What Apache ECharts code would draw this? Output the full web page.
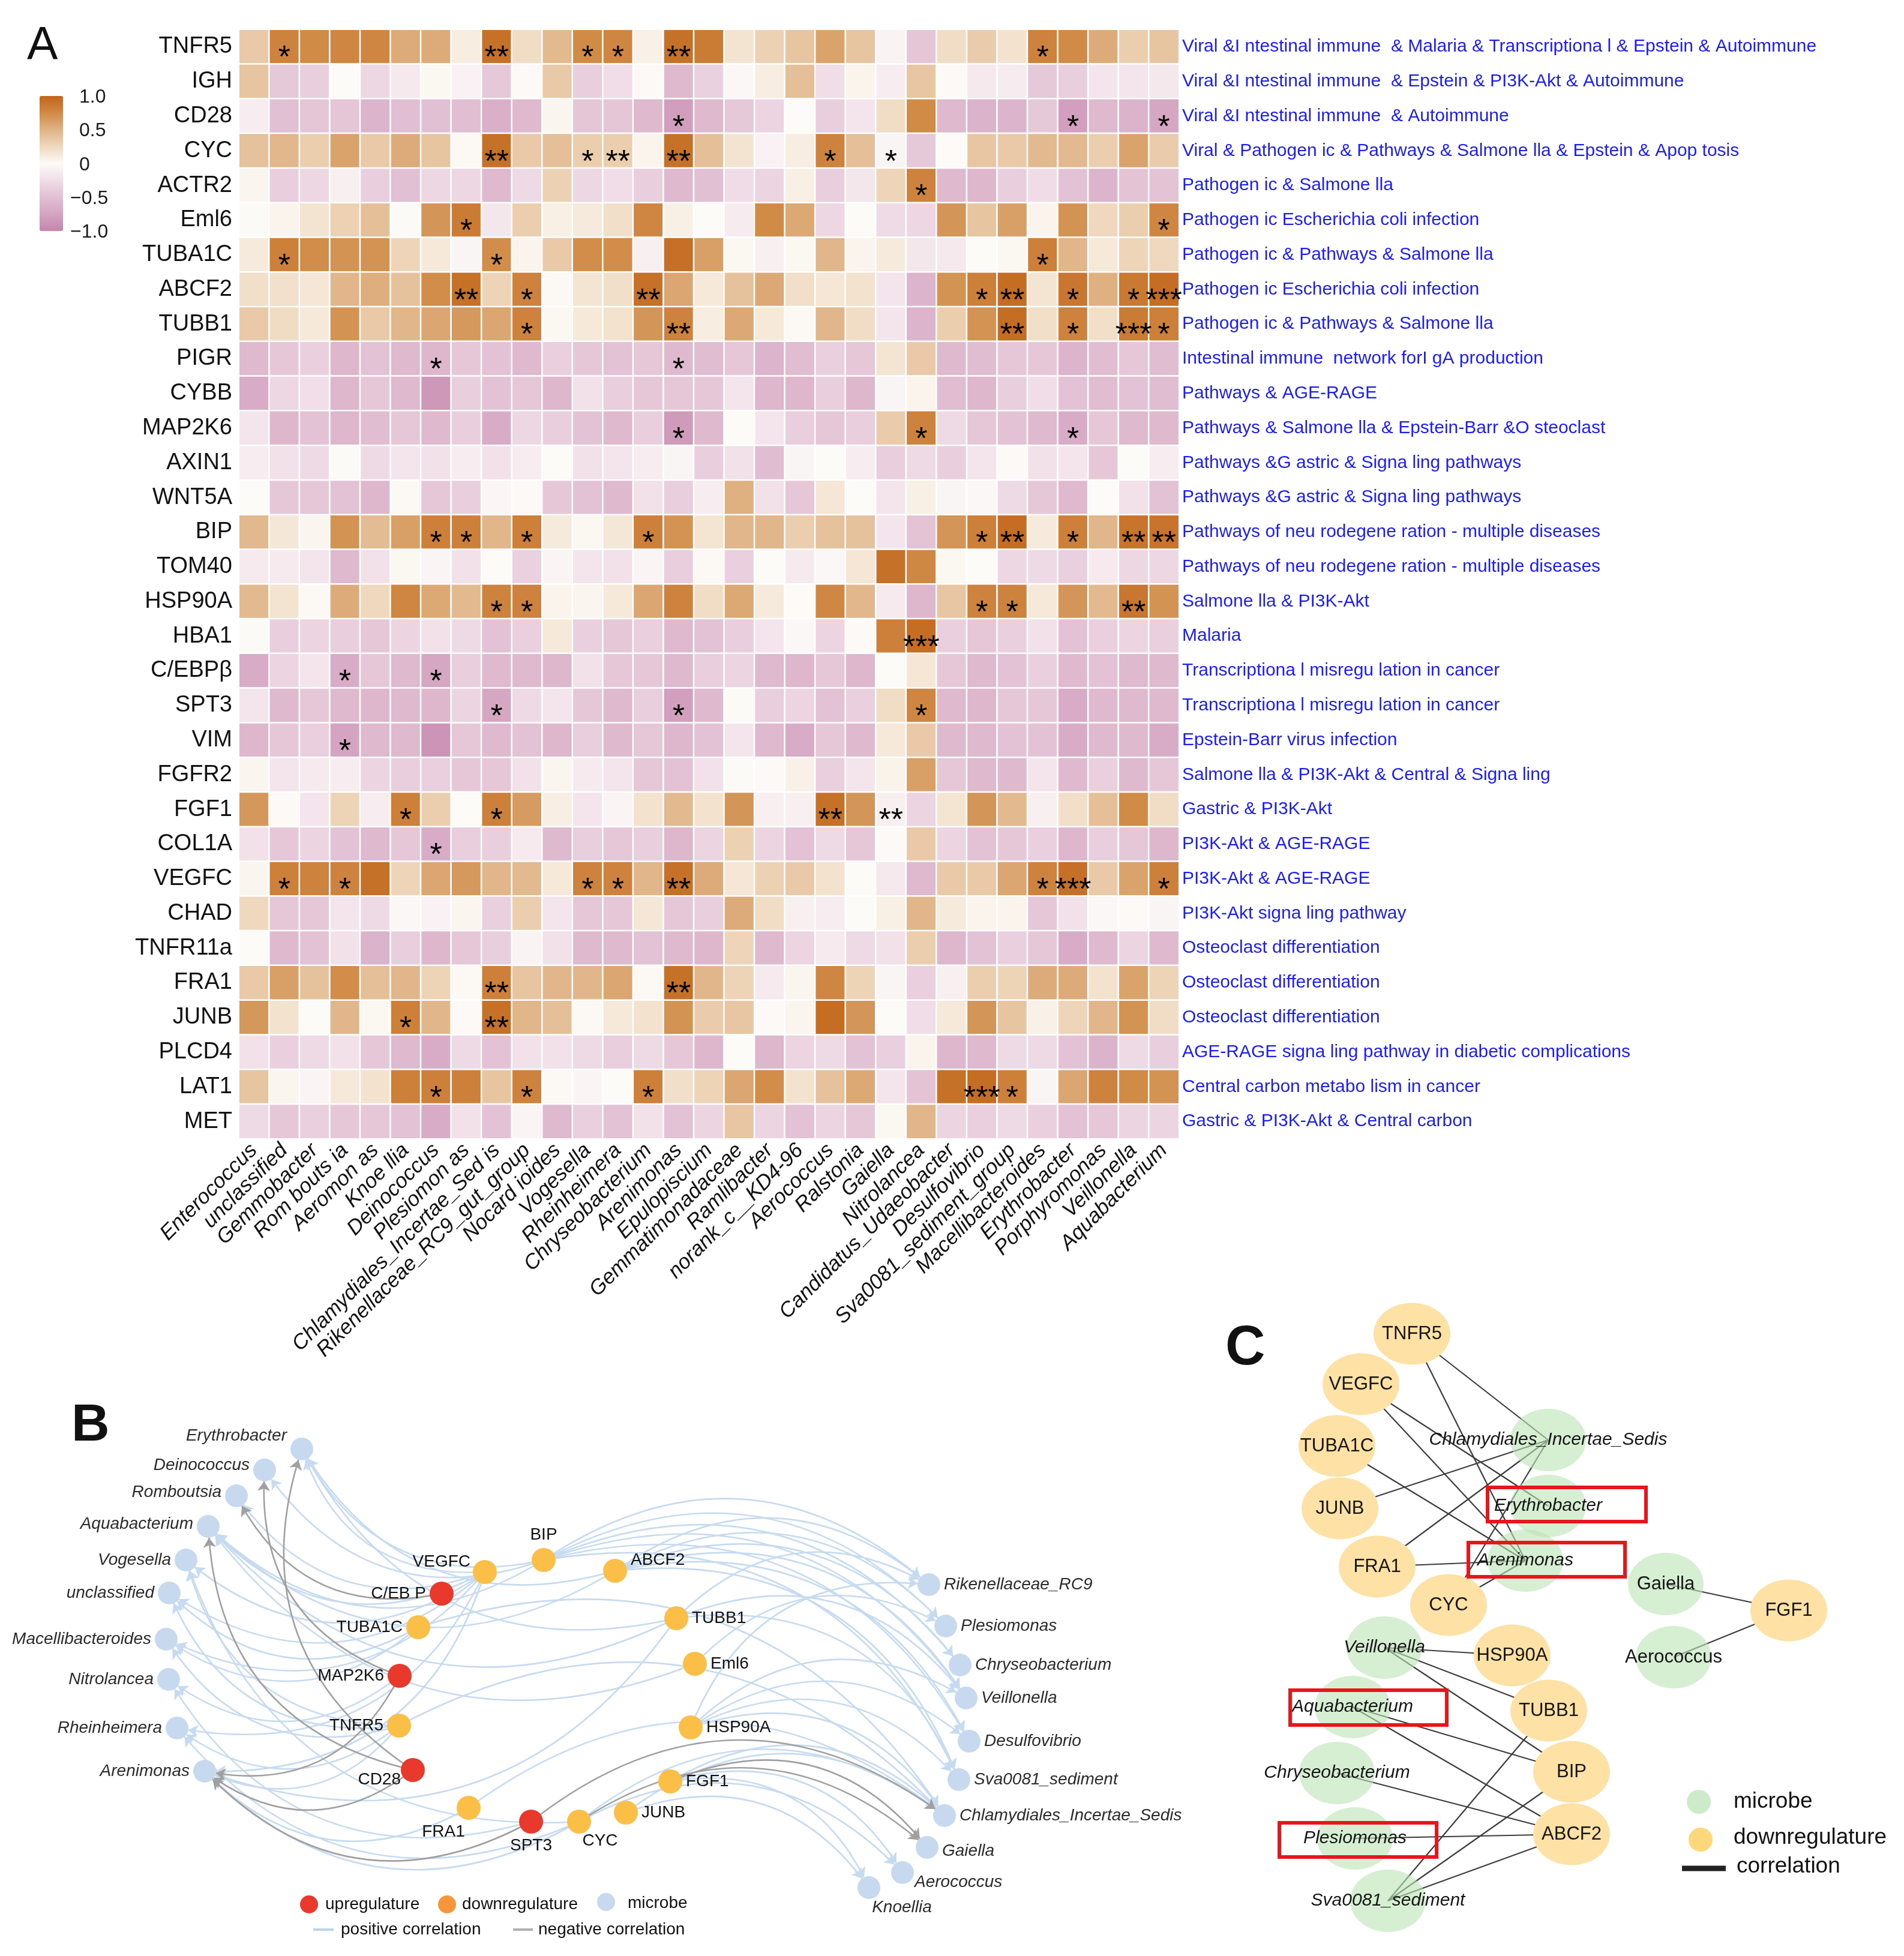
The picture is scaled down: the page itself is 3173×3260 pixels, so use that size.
<!DOCTYPE html>
<html><head><meta charset="utf-8">
<script src="https://cdn.jsdelivr.net/npm/echarts/dist/echarts.min.js"></script>
<style>html,body{margin:0;padding:0;background:#fff}#main{width:3173px;height:3260px}</style>
</head><body><div id="main"></div>
<script>
// ---------------- Panel A data ----------------
const genes = ['TNFR5','IGH','CD28','CYC','ACTR2','Eml6','TUBA1C','ABCF2','TUBB1','PIGR','CYBB','MAP2K6','AXIN1','WNT5A','BIP','TOM40','HSP90A','HBA1','C/EBPβ','SPT3','VIM','FGFR2','FGF1','COL1A','VEGFC','CHAD','TNFR11a','FRA1','JUNB','PLCD4','LAT1','MET'];
const microbes = ['Enterococcus','unclassified','Gemmobacter','Rom bouts ia','Aeromon as','Knoe llia','Deinococcus','Plesiomon as','Chlamydiales_Incertae_Sed is','Rikenellaceae_RC9_gut_group','Nocard ioides','Vogesella','Rheinheimera','Chryseobacterium','Arenimonas','Epulopiscium','Gemmatimonadaceae','Ramlibacter','norank_c__KD4-96','Aerococcus','Ralstonia','Gaiella','Nitrolancea','Candidatus_Udaeobacter','Desulfovibrio','Sva0081_sediment_group','Macellibacteroides','Erythrobacter','Porphyromonas','Veillonella','Aquabacterium'];
const pathways = [
 'Viral &I ntestinal immune  & Malaria & Transcriptiona l & Epstein & Autoimmune',
 'Viral &I ntestinal immune  & Epstein & PI3K-Akt & Autoimmune',
 'Viral &I ntestinal immune  & Autoimmune',
 'Viral & Pathogen ic & Pathways & Salmone lla & Epstein & Apop tosis',
 'Pathogen ic & Salmone lla',
 'Pathogen ic Escherichia coli infection',
 'Pathogen ic & Pathways & Salmone lla',
 'Pathogen ic Escherichia coli infection',
 'Pathogen ic & Pathways & Salmone lla',
 'Intestinal immune  network forI gA production',
 'Pathways & AGE-RAGE',
 'Pathways & Salmone lla & Epstein-Barr &O steoclast',
 'Pathways &G astric & Signa ling pathways',
 'Pathways &G astric & Signa ling pathways',
 'Pathways of neu rodegene ration - multiple diseases',
 'Pathways of neu rodegene ration - multiple diseases',
 'Salmone lla & PI3K-Akt',
 'Malaria',
 'Transcriptiona l misregu lation in cancer',
 'Transcriptiona l misregu lation in cancer',
 'Epstein-Barr virus infection',
 'Salmone lla & PI3K-Akt & Central & Signa ling',
 'Gastric & PI3K-Akt',
 'PI3K-Akt & AGE-RAGE',
 'PI3K-Akt & AGE-RAGE',
 'PI3K-Akt signa ling pathway',
 'Osteoclast differentiation',
 'Osteoclast differentiation',
 'Osteoclast differentiation',
 'AGE-RAGE signa ling pathway in diabetic complications',
 'Central carbon metabo lism in cancer',
 'Gastric & PI3K-Akt & Central carbon'
];
const colorbarTicks = ['1.0','0.5','0','\u22120.5','\u22121.0'];
// correlation values, one list per gene (row), one value per microbe (column)
const corr = [
 [0.35,0.8,0.75,0.78,0.78,0.55,0.55,0.1,0.92,0.22, 0.45,0.75,0.78,0.07,0.92,0.85,0.17,0.3,0.38,0.6, 0.38,-0.07,-0.45,0.22,0.33,0.18,0.8,0.75,0.55,0.32,0.38],
 [0.38,-0.42,-0.38,0,-0.3,-0.15,0.03,-0.08,-0.42,-0.02, 0.35,-0.38,-0.25,-0.02,-0.55,-0.35,-0.03,0.1,0.42,-0.25, 0.05,-0.12,0.37,-0.02,-0.15,-0.13,-0.42,-0.38,-0.18,-0.18,-0.16],
 [-0.12,-0.5,-0.45,-0.45,-0.6,-0.52,-0.5,-0.52,-0.65,-0.55, 0.04,-0.45,-0.45,-0.55,-0.8,-0.55,-0.42,-0.33,0,-0.38, -0.18,0.22,0.75,-0.55,-0.62,-0.6,-0.42,-0.78,-0.55,-0.62,-0.72],
 [0.4,0.47,0.32,0.6,0.35,0.55,0.38,0.02,0.92,0.35, 0.42,0.32,0.32,0.05,0.92,0.42,0.17,-0.08,0.1,0.8, 0.42,-0.05,-0.42,0,0.37,0.35,0.45,0.45,0.32,0.6,0.33],
 [0.04,-0.38,-0.3,-0.1,-0.38,-0.5,-0.3,-0.3,-0.55,-0.28, 0.3,-0.3,-0.25,-0.38,-0.55,-0.5,-0.26,-0.32,0.08,-0.38, -0.17,0.27,0.8,-0.55,-0.58,-0.38,-0.26,-0.48,-0.6,-0.47,-0.47],
 [0.01,0.05,0.17,0.3,0.42,0.01,0.68,0.85,-0.17,0.32, 0.08,0.12,0.2,0.78,0.08,0,-0.13,0.75,0.57,-0.3, 0,-0.27,-0.3,0.68,0.38,0.62,0.05,0.7,0.25,0.32,0.78],
 [0.12,0.82,0.74,0.7,0.7,0.27,0.13,-0.05,0.74,0.05, 0.35,0.74,0.74,-0.1,0.93,0.62,0.03,-0.1,0.03,0.48, 0.05,0.12,-0.17,-0.15,0,0.03,0.82,0.48,0.13,0.27,0.25],
 [0.2,0.19,0.15,0.48,0.53,0.4,0.74,0.92,0.28,0.8, 0.02,0.16,0.2,0.92,0.58,0.13,0.4,0.56,0.2,0.15, 0.18,-0.18,-0.6,0.7,0.82,0.95,0.16,0.88,0.52,0.87,0.95],
 [0.35,0.23,0.13,0.7,0.35,0.48,0.58,0.66,0.58,0.8, 0.03,0.13,0.18,0.68,0.8,0.1,0.56,0.13,0.02,0.48, 0.22,-0.18,-0.6,0.32,0.7,0.95,0.2,0.8,0.2,0.85,0.82],
 [-0.55,-0.44,-0.36,-0.58,-0.48,-0.55,-0.58,-0.44,-0.48,-0.55, -0.36,-0.44,-0.48,-0.44,-0.55,-0.53,-0.44,-0.6,-0.53,-0.36, -0.44,0.16,0.35,-0.55,-0.53,-0.44,-0.44,-0.6,-0.53,-0.44,-0.53],
 [-0.68,-0.3,-0.24,-0.58,-0.44,-0.55,-0.85,-0.38,-0.48,-0.44, -0.58,-0.22,-0.38,-0.44,-0.44,-0.44,-0.18,-0.58,-0.58,-0.38, -0.58,-0.05,0.05,-0.53,-0.58,-0.38,-0.25,-0.48,-0.53,-0.48,-0.53],
 [-0.18,-0.58,-0.48,-0.58,-0.53,-0.44,-0.55,-0.38,-0.68,-0.3, -0.38,-0.48,-0.55,-0.38,-0.82,-0.55,0,-0.18,-0.38,-0.44, -0.38,0.33,0.8,-0.28,-0.44,-0.48,-0.55,-0.68,-0.44,-0.55,-0.55],
 [-0.12,-0.22,-0.28,-0.01,-0.28,-0.18,-0.22,-0.12,-0.22,-0.12, 0,-0.22,-0.18,-0.12,-0.05,-0.38,-0.22,-0.53,-0.05,0, -0.12,-0.38,-0.28,-0.38,-0.18,-0.02,-0.22,-0.18,-0.44,0,-0.12],
 [0,-0.44,-0.44,-0.48,-0.58,0.02,-0.44,-0.38,-0.04,-0.02, -0.44,-0.48,-0.55,-0.22,-0.38,-0.12,0.52,-0.22,-0.44,0.15, 0,-0.18,0.08,-0.05,-0.03,-0.28,-0.44,-0.55,0,-0.22,-0.48],
 [0.46,0.14,0.04,0.7,0.44,0.62,0.82,0.82,0.48,0.82, 0.12,0.03,0.14,0.82,0.7,0.16,0.48,0.48,0.32,0.4, 0.4,-0.18,-0.47,0.68,0.82,0.95,0.12,0.82,0.48,0.9,0.9],
 [-0.14,-0.14,-0.18,-0.55,-0.22,0.03,-0.06,-0.22,0,-0.35, -0.06,-0.18,-0.22,-0.06,-0.38,0.02,-0.36,0,-0.14,-0.03, 0.15,0.92,0.77,0.03,0,-0.3,-0.28,-0.36,-0.14,-0.3,-0.3],
 [0.45,0.17,0.02,0.55,0.25,0.78,0.57,0.45,0.8,0.8, 0.05,0.04,0.13,0.58,0.8,0.22,0.57,0.12,0,0.77, 0.47,-0.14,-0.58,0.37,0.8,0.8,0.13,0.68,0.45,0.88,0.7],
 [-0.01,-0.38,-0.32,-0.38,-0.44,-0.32,-0.22,-0.28,-0.48,-0.36, 0.13,-0.36,-0.44,-0.36,-0.55,-0.48,-0.38,-0.18,-0.03,-0.32, -0.02,0.82,0.95,-0.36,-0.44,-0.36,-0.22,-0.48,-0.36,-0.32,-0.36],
 [-0.68,-0.32,-0.18,-0.68,-0.44,-0.55,-0.72,-0.38,-0.55,-0.55, -0.58,-0.22,-0.44,-0.44,-0.55,-0.38,-0.32,-0.55,-0.58,-0.44, -0.58,0,0.15,-0.44,-0.55,-0.48,-0.36,-0.55,-0.48,-0.55,-0.55],
 [-0.18,-0.55,-0.44,-0.55,-0.58,-0.55,-0.58,-0.32,-0.72,-0.28, -0.18,-0.44,-0.55,-0.38,-0.78,-0.55,-0.01,-0.38,-0.32,-0.48, -0.36,0.22,0.78,-0.55,-0.58,-0.44,-0.44,-0.68,-0.55,-0.55,-0.55],
 [-0.58,-0.44,-0.36,-0.75,-0.55,-0.55,-0.88,-0.44,-0.55,-0.48, -0.58,-0.38,-0.55,-0.44,-0.58,-0.48,-0.18,-0.55,-0.68,-0.44, -0.55,0.13,0.35,-0.55,-0.55,-0.48,-0.48,-0.68,-0.55,-0.55,-0.68],
 [0.04,-0.18,-0.14,-0.12,-0.32,-0.38,-0.36,-0.44,-0.44,-0.22, 0.04,-0.14,-0.18,-0.44,-0.48,-0.22,-0.01,-0.02,0.07,-0.36, -0.18,0.06,0.62,-0.44,-0.55,-0.55,-0.18,-0.55,-0.36,-0.55,-0.44],
 [0.67,-0.02,-0.18,0.28,-0.12,0.82,0.32,0,0.82,0.65, 0.09,-0.18,-0.06,0.18,0.45,0.18,0.68,-0.1,-0.1,0.92, 0.68,-0.1,-0.32,0.16,0.68,0.45,-0.1,0.2,0.42,0.75,0.22],
 [-0.22,-0.44,-0.32,-0.48,-0.55,-0.44,-0.68,-0.38,-0.38,-0.14, -0.55,-0.38,-0.44,-0.38,-0.58,-0.32,0.3,-0.32,-0.48,-0.28, -0.44,-0.02,0.35,-0.32,-0.48,-0.44,-0.36,-0.58,-0.38,-0.44,-0.58],
 [0.04,0.82,0.8,0.8,0.92,0.27,0.58,0.66,0.48,0.45, 0.13,0.8,0.8,0.48,0.92,0.55,0.15,0.3,0.35,0.18, 0,-0.15,-0.55,0.35,0.35,0.58,0.8,0.93,0.35,0.6,0.82],
 [0.25,-0.44,-0.44,-0.18,-0.28,-0.03,-0.08,0.04,-0.36,0.32, -0.18,-0.44,-0.44,0.15,-0.44,-0.38,0.55,0.22,-0.1,-0.12, 0,0.08,0.48,0.12,0.05,0.05,-0.44,-0.22,-0.03,-0.02,-0.05],
 [0,-0.55,-0.48,-0.22,-0.62,-0.38,-0.58,-0.44,-0.38,-0.07, -0.22,-0.55,-0.55,-0.48,-0.55,-0.58,0.27,-0.55,-0.32,-0.14, -0.28,-0.22,0.32,-0.58,-0.48,-0.36,-0.44,-0.68,-0.55,-0.32,-0.55],
 [0.35,0.62,0.4,0.74,0.42,0.48,0.28,0.02,0.82,0.38, 0.48,0.48,0.58,0.02,0.92,0.48,0.28,-0.14,0.04,0.78, 0.28,-0.05,-0.36,-0.1,0.32,0.28,0.55,0.55,0.18,0.6,0.28],
 [0.67,0.18,0,0.48,0.03,0.82,0.48,-0.02,0.92,0.48, 0.42,0.02,0.13,0.18,0.7,0.33,0.37,-0.02,0.04,0.95, 0.68,0,-0.25,0.13,0.68,0.38,0.07,0.27,0.48,0.7,0.22],
 [-0.22,-0.36,-0.28,-0.22,-0.44,-0.55,-0.68,-0.28,-0.48,-0.22, -0.22,-0.28,-0.38,-0.28,-0.44,-0.58,0,-0.58,-0.32,-0.28, -0.48,-0.36,0.05,-0.58,-0.55,-0.28,-0.28,-0.48,-0.62,-0.28,-0.38],
 [0.38,0.04,-0.06,0.13,0.18,0.82,0.82,0.82,0.38,0.8, 0.02,-0.06,0,0.82,0.2,0.28,0.58,0.74,0.18,0.4, 0.57,-0.18,-0.47,0.92,0.95,0.82,-0.05,0.58,0.8,0.75,0.7],
 [-0.28,-0.44,-0.36,-0.44,-0.44,-0.48,-0.68,-0.22,-0.48,-0.06, -0.55,-0.36,-0.48,-0.22,-0.48,-0.32,0.37,-0.32,-0.48,-0.32, -0.44,0.03,0.48,-0.32,-0.36,-0.28,-0.36,-0.48,-0.44,-0.32,-0.32]
];
// significance marks: [row, column, mark]
const signif = [
 [0,1,'*'],[0,8,'**'],[0,11,'*'],[0,12,'*'],[0,14,'**'],[0,26,'*'],
 [2,14,'*'],[2,27,'*'],[2,30,'*'],
 [3,8,'**'],[3,11,'*'],[3,12,'**'],[3,14,'**'],[3,19,'*'],[3,21,'*'],
 [4,22,'*'],
 [5,7,'*'],[5,30,'*'],
 [6,1,'*'],[6,8,'*'],[6,26,'*'],
 [7,7,'**'],[7,9,'*'],[7,13,'**'],[7,24,'*'],[7,25,'**'],[7,27,'*'],[7,29,'*'],[7,30,'***'],
 [8,9,'*'],[8,14,'**'],[8,25,'**'],[8,27,'*'],[8,29,'***'],[8,30,'*'],
 [9,6,'*'],[9,14,'*'],
 [11,14,'*'],[11,22,'*'],[11,27,'*'],
 [14,6,'*'],[14,7,'*'],[14,9,'*'],[14,13,'*'],[14,24,'*'],[14,25,'**'],[14,27,'*'],[14,29,'**'],[14,30,'**'],
 [16,8,'*'],[16,9,'*'],[16,24,'*'],[16,25,'*'],[16,29,'**'],
 [17,22,'***'],
 [18,3,'*'],[18,6,'*'],
 [19,8,'*'],[19,14,'*'],[19,22,'*'],
 [20,3,'*'],
 [22,5,'*'],[22,8,'*'],[22,19,'**'],[22,21,'**'],
 [23,6,'*'],
 [24,1,'*'],[24,3,'*'],[24,11,'*'],[24,12,'*'],[24,14,'**'],[24,26,'*'],[24,27,'***'],[24,30,'*'],
 [27,8,'**'],[27,14,'**'],
 [28,5,'*'],[28,8,'**'],
 [30,6,'*'],[30,9,'*'],[30,13,'*'],[30,24,'***'],[30,25,'*']
];

// ---------------- Panel B data ----------------
const bMicrobes = ['Erythrobacter','Deinococcus','Romboutsia','Aquabacterium','Vogesella','unclassified','Macellibacteroides','Nitrolancea','Rheinheimera','Arenimonas','Rikenellaceae_RC9','Plesiomonas','Chryseobacterium','Veillonella','Desulfovibrio','Sva0081_sediment','Chlamydiales_Incertae_Sedis','Gaiella','Aerococcus','Knoellia'];
const bUpGenes = ['C/EB P','MAP2K6','CD28','SPT3'];
const bDownGenes = ['VEGFC','BIP','ABCF2','TUBA1C','TUBB1','Eml6','TNFR5','HSP90A','FGF1','FRA1','CYC','JUNB'];
const bPositive = [
 ['TNFR5','unclassified'],['TNFR5','Chlamydiales_Incertae_Sedis'],['TNFR5','Vogesella'],['TNFR5','Rheinheimera'],['TNFR5','Arenimonas'],['TNFR5','Macellibacteroides'],
 ['CYC','Chlamydiales_Incertae_Sedis'],['CYC','Vogesella'],['CYC','Rheinheimera'],['CYC','Arenimonas'],['CYC','Aerococcus'],
 ['Eml6','Plesiomonas'],['Eml6','Aquabacterium'],
 ['TUBA1C','unclassified'],['TUBA1C','Chlamydiales_Incertae_Sedis'],['TUBA1C','Macellibacteroides'],
 ['ABCF2','Plesiomonas'],['ABCF2','Rikenellaceae_RC9'],['ABCF2','Chryseobacterium'],['ABCF2','Desulfovibrio'],['ABCF2','Sva0081_sediment'],['ABCF2','Erythrobacter'],['ABCF2','Veillonella'],['ABCF2','Aquabacterium'],
 ['TUBB1','Rikenellaceae_RC9'],['TUBB1','Arenimonas'],['TUBB1','Sva0081_sediment'],['TUBB1','Erythrobacter'],['TUBB1','Veillonella'],['TUBB1','Aquabacterium'],
 ['MAP2K6','Nitrolancea'],
 ['BIP','Deinococcus'],['BIP','Plesiomonas'],['BIP','Rikenellaceae_RC9'],['BIP','Chryseobacterium'],['BIP','Desulfovibrio'],['BIP','Sva0081_sediment'],['BIP','Erythrobacter'],['BIP','Veillonella'],['BIP','Aquabacterium'],
 ['HSP90A','Chlamydiales_Incertae_Sedis'],['HSP90A','Rikenellaceae_RC9'],['HSP90A','Desulfovibrio'],['HSP90A','Sva0081_sediment'],['HSP90A','Veillonella'],
 ['SPT3','Nitrolancea'],
 ['FGF1','Knoellia'],['FGF1','Chlamydiales_Incertae_Sedis'],['FGF1','Aerococcus'],
 ['VEGFC','unclassified'],['VEGFC','Romboutsia'],['VEGFC','Vogesella'],['VEGFC','Rheinheimera'],['VEGFC','Arenimonas'],['VEGFC','Macellibacteroides'],['VEGFC','Erythrobacter'],['VEGFC','Aquabacterium'],
 ['FRA1','Chlamydiales_Incertae_Sedis'],['FRA1','Arenimonas'],
 ['JUNB','Knoellia'],['JUNB','Chlamydiales_Incertae_Sedis']
];
const bNegative = [
 ['C/EB P','Romboutsia'],['MAP2K6','Deinococcus'],['MAP2K6','Arenimonas'],['CD28','Erythrobacter'],['CD28','Aquabacterium'],['CD28','Arenimonas'],
 ['SPT3','Arenimonas'],['SPT3','Chlamydiales_Incertae_Sedis'],['CYC','Gaiella'],['FGF1','Gaiella']
];
// node layout of panel B (page pixels)
const bLayout = {
 'Erythrobacter':[503,2415],'Deinococcus':[441,2450],'Romboutsia':[394,2493],'Aquabacterium':[347,2544],
 'Vogesella':[310,2600],'unclassified':[282,2655],'Macellibacteroides':[277,2732],'Nitrolancea':[281,2799],
 'Rheinheimera':[295,2880],'Arenimonas':[341,2952],
 'Rikenellaceae_RC9':[1548,2641],'Plesiomonas':[1576,2710],'Chryseobacterium':[1600,2775],'Veillonella':[1610,2830],
 'Desulfovibrio':[1615,2902],'Sva0081_sediment':[1598,2966],'Chlamydiales_Incertae_Sedis':[1574,3026],
 'Gaiella':[1545,3079],'Aerococcus':[1504,3121],'Knoellia':[1448,3146],
 'VEGFC':[808,2620],'BIP':[906,2600],'ABCF2':[1025,2618],'C/EB P':[736,2656],'TUBA1C':[697,2712],
 'TUBB1':[1127,2697],'Eml6':[1158,2773],'MAP2K6':[666,2793],'TNFR5':[665,2876],'HSP90A':[1151,2879],
 'CD28':[688,2950],'FGF1':[1117,2969],'FRA1':[781,3013],'SPT3':[885,3036],'CYC':[965,3036],'JUNB':[1043,3021]
};

// ---------------- Panel C data ----------------
const cMicrobes = ['Chlamydiales_Incertae_Sedis','Erythrobacter','Arenimonas','Gaiella','Aerococcus','Veillonella','Aquabacterium','Chryseobacterium','Plesiomonas','Sva0081_sediment'];
const cGenes = ['TNFR5','VEGFC','TUBA1C','JUNB','FRA1','CYC','HSP90A','TUBB1','BIP','ABCF2','FGF1'];
const cEdges = [
 ['TNFR5','Chlamydiales_Incertae_Sedis'],['TNFR5','Arenimonas'],['VEGFC','Erythrobacter'],['VEGFC','Arenimonas'],
 ['TUBA1C','Arenimonas'],['JUNB','Chlamydiales_Incertae_Sedis'],['FRA1','Chlamydiales_Incertae_Sedis'],['FRA1','Arenimonas'],
 ['CYC','Chlamydiales_Incertae_Sedis'],['CYC','Arenimonas'],['FGF1','Gaiella'],['FGF1','Aerococcus'],
 ['HSP90A','Veillonella'],['TUBB1','Veillonella'],['BIP','Veillonella'],['BIP','Aquabacterium'],['ABCF2','Aquabacterium'],
 ['ABCF2','Chryseobacterium'],['ABCF2','Plesiomonas'],['TUBB1','Sva0081_sediment'],['BIP','Sva0081_sediment'],['ABCF2','Sva0081_sediment']
];
const cHighlighted = ['Erythrobacter','Arenimonas','Aquabacterium','Plesiomonas'];
const cLayout = {
 'TNFR5':[2353,2223],'VEGFC':[2268,2307],'TUBA1C':[2228,2410],'JUNB':[2233,2514],'FRA1':[2295,2611],'CYC':[2414,2675],
 'HSP90A':[2520,2759],'TUBB1':[2581,2851],'BIP':[2619,2953],'ABCF2':[2619,3057],'FGF1':[2981,2684],
 'Chlamydiales_Incertae_Sedis':[2580,2400],'Erythrobacter':[2580,2510],'Arenimonas':[2542,2601],'Gaiella':[2776,2640],
 'Aerococcus':[2789,2762],'Veillonella':[2307,2746],'Aquabacterium':[2254,2845],'Chryseobacterium':[2228,2955],
 'Plesiomonas':[2258,3064],'Sva0081_sediment':[2313,3168]
};
const cBoxes = {'Erythrobacter':[2479,2479,264,57],'Arenimonas':[2447,2571,261,57],'Aquabacterium':[2150,2817,261,58],'Plesiomonas':[2132,3038,262,57]};

// ---------------- build ----------------
const FONT = '"Liberation Sans", Arial, sans-serif';
const chart = echarts.init(document.getElementById('main'), null, {renderer:'canvas'});

const heatData = [];
corr.forEach((row, r) => row.forEach((v, c) => heatData.push([c, r, v])));
const sigMap = {};
signif.forEach(([r, c, s]) => { sigMap[r + '_' + c] = s; });

// panel B nodes & links
const bLabelCfg = {
 'Erythrobacter':['left',[0,-22]],'Deinococcus':['left',[0,-8]],'Romboutsia':['left',[0,-6]],
 'Aquabacterium':['left',[0,-4]],'VEGFC':['left',[2,-17]],'BIP':['top',[0,-2]],'ABCF2':['right',[0,-18]],
 'CD28':['left',[6,16]],'FRA1':['bottom',[-42,0]],'SPT3':['bottom',[0,0]],'CYC':['bottom',[35,-8]],
 'Gaiella':['right',[0,6]],'Aerococcus':['right',[-5,16]],'Knoellia':['bottom',[55,-6]]
};
function bNode(name, color, size, italic) {
  const p = bLayout[name];
  const cfg = bLabelCfg[name] || [p[0] < 900 ? 'left' : 'right', [0, 0]];
  return {name, value: p, symbolSize: size, itemStyle: {color},
    label: {position: cfg[0], offset: cfg[1], fontStyle: italic ? 'italic' : 'normal', color: italic ? '#2b2b2b' : '#111'}};
}
const bNodes = [];
bMicrobes.forEach(n => bNodes.push(bNode(n, '#c7d9ee', 38, true)));
bUpGenes.forEach(n => bNodes.push(bNode(n, '#e8392c', 40, false)));
bDownGenes.forEach(n => bNodes.push(bNode(n, '#fbbe47', 40, false)));

const bLinks = [];
bPositive.forEach(([g, m]) => bLinks.push({source: g, target: m,
  lineStyle: {color: '#c6daf0', width: 2.6, curveness: 0.38}}));
bNegative.forEach(([g, m]) => bLinks.push({source: g, target: m,
  lineStyle: {color: '#a0a0a0', width: 2.6, curveness: 0.38}}));

// panel C nodes & links
const cNodes = [];
cMicrobes.forEach(n => {
  const upright = (n === 'Gaiella' || n === 'Aerococcus');
  cNodes.push({name: n, value: cLayout[n], symbolSize: [126, 104],
    itemStyle: {color: 'rgba(186,226,180,0.6)'},
    label: {fontStyle: upright ? 'normal' : 'italic', fontSize: upright ? 31 : 30, color: '#151515'}});
});
cGenes.forEach(n => cNodes.push({name: n, value: cLayout[n], symbolSize: [128, 103],
  itemStyle: {color: '#fde1a5'}, label: {fontSize: 31, color: '#151515'}}));
const cLinks = cEdges.map(([a, b]) => ({source: a, target: b}));

// graphics
const G = [];
function txt(text, x, y, size, opts) {
  opts = opts || {};
  G.push({type: 'text', z: 50, style: {text, x, y, font: (opts.weight || 'normal') + ' ' + size + 'px ' + FONT,
    fill: opts.fill || '#111', align: opts.align || 'left', textAlign: opts.align || 'left',
    verticalAlign: 'middle', textVerticalAlign: 'middle'}});
}
txt('A', 45, 78, 77);
const tickY = [162, 218, 275, 331, 387];
colorbarTicks.forEach((t, i) => txt(t, t.charAt(0) === '\u2212' ? 117 : 132, tickY[i], 32, {fill: '#1a1a1a'}));
txt('B', 119, 2377, 88, {weight: 'bold'});
txt('C', 2042, 2249, 92, {weight: 'bold'});
// legend B
G.push({type: 'circle', z: 50, shape: {cx: 515, cy: 3174, r: 15}, style: {fill: '#e8392c'}});
txt('upregulature', 542, 3174, 28);
G.push({type: 'circle', z: 50, shape: {cx: 745, cy: 3174, r: 15}, style: {fill: '#f7953b'}});
txt('downregulature', 770, 3174, 28);
G.push({type: 'circle', z: 50, shape: {cx: 1010, cy: 3170, r: 15}, style: {fill: '#c7d9ee'}});
txt('microbe', 1046, 3172, 28);
G.push({type: 'line', z: 50, shape: {x1: 522, y1: 3216, x2: 556, y2: 3216}, style: {stroke: '#bcd3ec', lineWidth: 4}});
txt('positive correlation', 568, 3216, 28);
G.push({type: 'line', z: 50, shape: {x1: 855, y1: 3216, x2: 888, y2: 3216}, style: {stroke: '#b0b0b0', lineWidth: 4}});
txt('negative correlation', 897, 3216, 28);
// legend C
G.push({type: 'circle', z: 50, shape: {cx: 2831, cy: 3003, r: 20}, style: {fill: '#cdebc9'}});
txt('microbe', 2889, 3003, 37);
G.push({type: 'circle', z: 50, shape: {cx: 2834, cy: 3066, r: 20}, style: {fill: '#fdd87a'}});
txt('downregulature', 2889, 3063, 37);
G.push({type: 'line', z: 50, shape: {x1: 2803, y1: 3114, x2: 2876, y2: 3114}, style: {stroke: '#222', lineWidth: 9}});
txt('correlation', 2894, 3111, 37);
cHighlighted.forEach(n => { const b = cBoxes[n];
  G.push({type: 'rect', z: 60, shape: {x: b[0], y: b[1], width: b[2], height: b[3]}, style: {fill: 'none', stroke: '#e8161b', lineWidth: 6}}); });

const option = {
  backgroundColor: '#ffffff',
  animation: false,
  textStyle: {fontFamily: FONT},
  grid: [
    {left: 398, top: 49, width: 1567, height: 1849, containLabel: false, outerBoundsMode: 'none'},
    {left: 0, top: 0, width: 3173, height: 3260, containLabel: false, outerBoundsMode: 'none'}
  ],
  xAxis: [
    {type: 'category', gridIndex: 0, data: microbes, position: 'bottom',
     axisLine: {show: false}, axisTick: {show: false}, splitLine: {show: false},
     axisLabel: {interval: 0, rotate: 45, fontSize: 35, fontStyle: 'italic', color: '#111', margin: 14, fontFamily: FONT}},
    {type: 'value', gridIndex: 1, min: 0, max: 3173, show: false}
  ],
  yAxis: [
    {type: 'category', gridIndex: 0, data: genes, inverse: true,
     axisLine: {show: false}, axisTick: {show: false}, splitLine: {show: false},
     axisLabel: {interval: 0, fontSize: 38, color: '#111', margin: 11, fontFamily: FONT}},
    {type: 'category', gridIndex: 0, data: pathways, inverse: true, position: 'right',
     axisLine: {show: false}, axisTick: {show: false}, splitLine: {show: false},
     axisLabel: {interval: 0, fontSize: 30, color: '#1c1cf5', margin: 5, align: 'left', fontFamily: FONT}},
    {type: 'value', gridIndex: 1, min: 0, max: 3260, inverse: true, show: false}
  ],
  visualMap: {
    type: 'continuous', min: -1, max: 1, seriesIndex: 0, dimension: 2,
    show: true, calculable: false, left: 66, top: 160, itemWidth: 39, itemHeight: 225, padding: 0,
    text: null, showLabel: false,
    inRange: {color: ['#c585ab','#d4a4c1','#e2c0d3','#f0dde7','#fdfbf8','#efd8be','#e0b385','#d08b47','#c2651a']}
  },
  series: [
    {type: 'heatmap', xAxisIndex: 0, yAxisIndex: 0, data: heatData,
     itemStyle: {borderColor: '#ffffff', borderWidth: 2.5},
     label: {show: true, color: '#000', fontSize: 52, fontFamily: FONT, offset: [0, 20],
       formatter: p => sigMap[p.value[1] + '_' + p.value[0]] || ''},
     emphasis: {disabled: true}},
    {type: 'graph', coordinateSystem: 'cartesian2d', xAxisIndex: 1, yAxisIndex: 2, layout: 'none',
     data: bNodes, links: bLinks, edgeSymbol: ['none', 'arrow'], edgeSymbolSize: [0, 16],
     label: {show: true, fontSize: 28, fontFamily: FONT, distance: 6},
     lineStyle: {opacity: 1}, emphasis: {disabled: true}, z: 3},
    {type: 'graph', coordinateSystem: 'cartesian2d', xAxisIndex: 1, yAxisIndex: 2, layout: 'none',
     data: cNodes, links: cLinks,
     label: {show: true, position: 'inside', color: '#151515', fontFamily: FONT},
     lineStyle: {color: '#3c3c3c', width: 2.2, opacity: 1, curveness: 0},
     emphasis: {disabled: true}, z: 3}
  ],
  graphic: {elements: G}
};
chart.setOption(option);
</script>
</body></html>
